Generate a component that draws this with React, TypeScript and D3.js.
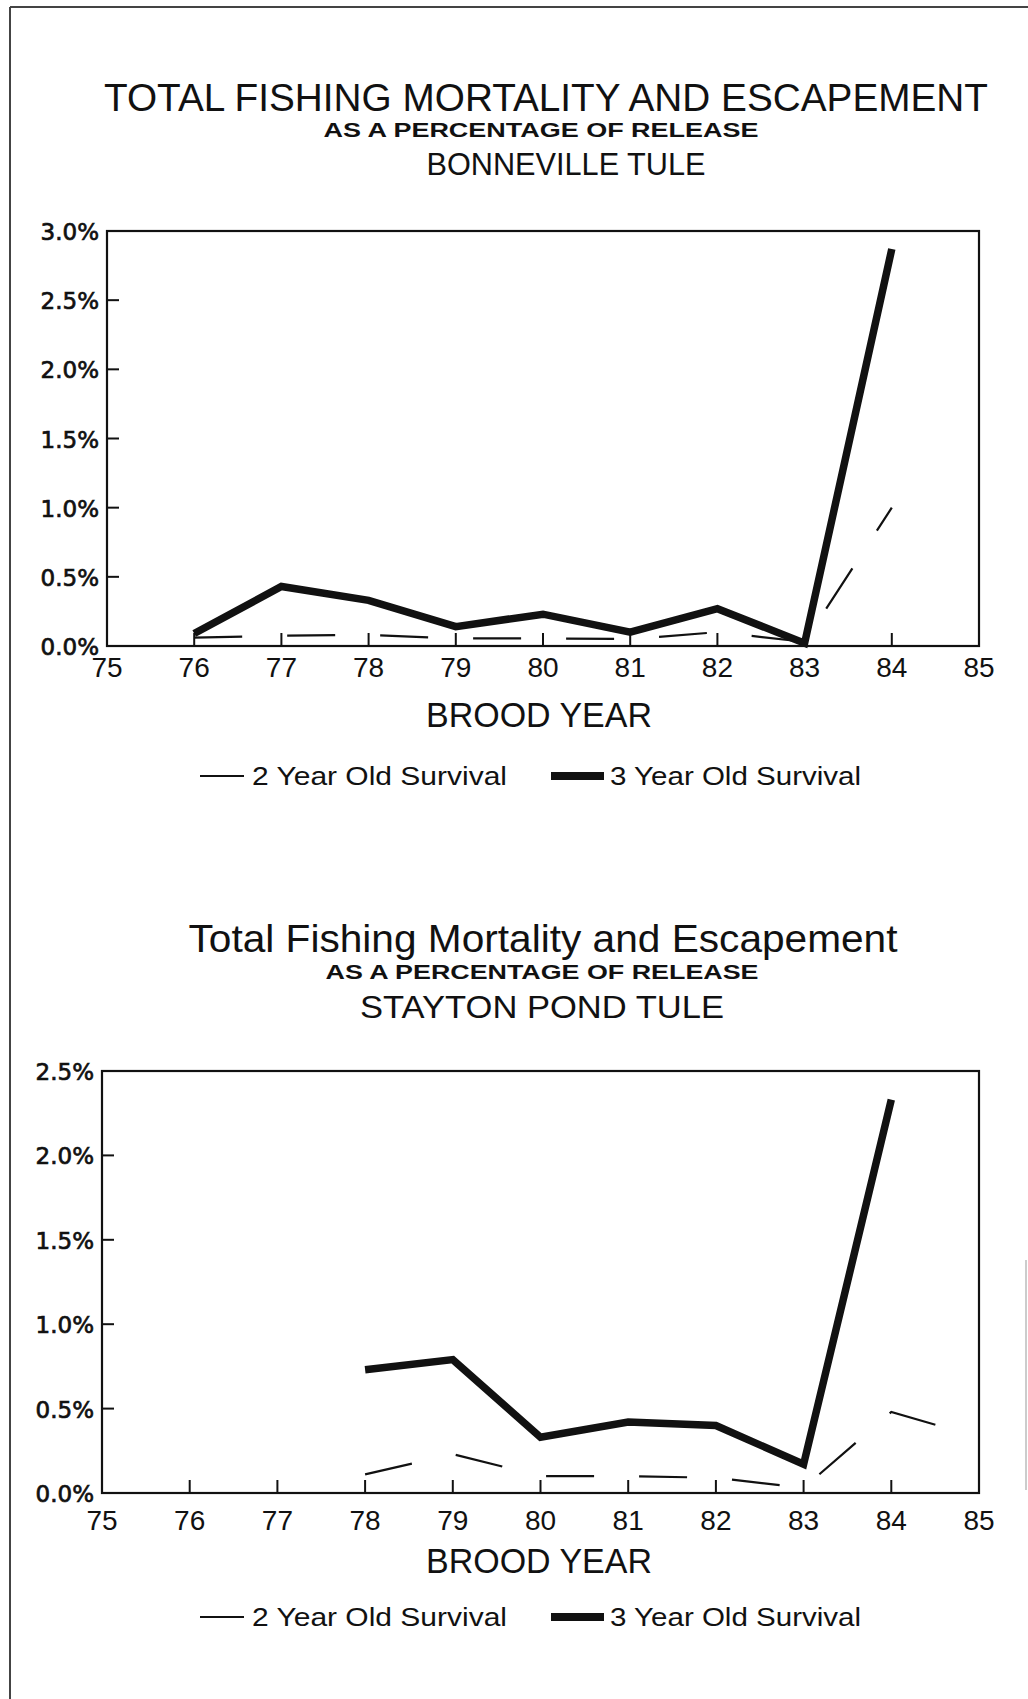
import React from "react";
import * as d3 from "d3";

const yearTicks = [75, 76, 77, 78, 79, 80, 81, 82, 83, 84, 85];

const bonnevilleYears = [76, 77, 78, 79, 80, 81, 82, 83, 84];
const bonneville3 = [0.09, 0.43, 0.33, 0.14, 0.23, 0.1, 0.27, 0.02, 2.87];
const bonneville2 = [0.06, 0.075, 0.08, 0.055, 0.055, 0.05, 0.1, 0.03, 1.0];
const bonnevilleYTicks = [0, 0.5, 1, 1.5, 2, 2.5, 3];

const staytonYears3 = [78, 79, 80, 81, 82, 83, 84];
const stayton3 = [0.73, 0.79, 0.33, 0.42, 0.4, 0.17, 2.33];
const staytonYears2 = [78, 79, 80, 81, 82, 83, 84, 85];
const stayton2 = [0.11, 0.23, 0.1, 0.1, 0.09, 0.03, 0.48, 0.33];
const staytonYTicks = [0, 0.5, 1, 1.5, 2, 2.5];

const legendLabels = ["2 Year Old Survival", "3 Year Old Survival"];

const FONT = "'Liberation Sans', Arial, sans-serif";
const YFONT = "'DejaVu Sans', sans-serif";

type Panel = {
  x0: number; x1: number; y0: number; y1: number; yMax: number;
  yTicks: number[];
  years3: number[]; s3: number[]; years2: number[]; s2: number[];
  titleLines: { text: string; y: number; size: number; len: number; weight?: string; cx: number }[];
  xLabelOffset: number;
  broodY: number; legendY: number;
};

function ChartPanel({ p }: { p: Panel }) {
  const x = d3.scaleLinear().domain([75, 85]).range([p.x0, p.x1]);
  const y = d3.scaleLinear().domain([0, p.yMax]).range([p.y0, p.y1]);
  const line = d3
    .line<[number, number]>()
    .x((d) => x(d[0]))
    .y((d) => y(d[1]));
  const d3path = line(p.years3.map((yr, i) => [yr, p.s3[i]] as [number, number])) || "";
  const d2path = line(p.years2.map((yr, i) => [yr, p.s2[i]] as [number, number])) || "";
  const innerX = yearTicks.filter((t) => t > 75 && t < 85);
  const innerY = p.yTicks.filter((t) => t > 0 && t < p.yMax);
  return (
    <g>
      {p.titleLines.map((t, i) => (
        <text
          key={i}
          x={t.cx}
          y={t.y}
          textAnchor="middle"
          fontFamily={FONT}
          fontSize={t.size}
          fontWeight={t.weight || "normal"}
          textLength={t.len}
          lengthAdjust="spacingAndGlyphs"
          fill="#111"
        >
          {t.text}
        </text>
      ))}
      <rect
        x={p.x0}
        y={p.y1}
        width={p.x1 - p.x0}
        height={p.y0 - p.y1}
        fill="none"
        stroke="#111"
        strokeWidth={2.2}
      />
      {innerX.map((t) => (
        <line key={"xt" + t} x1={x(t)} x2={x(t)} y1={p.y0} y2={p.y0 - 13} stroke="#111" strokeWidth={2} />
      ))}
      {innerY.map((t) => (
        <line key={"yt" + t} x1={p.x0} x2={p.x0 + 12} y1={y(t)} y2={y(t)} stroke="#111" strokeWidth={2} />
      ))}
      {p.yTicks.map((t) => (
        <text
          key={"yl" + t}
          x={p.x0 - 8}
          y={y(t) + 9}
          textAnchor="end"
          fontFamily={YFONT}
          fontSize={23}
          fill="#111"
          stroke="#111"
          strokeWidth={0.7}
        >
          {t.toFixed(1) + "%"}
        </text>
      ))}
      {yearTicks.map((t) => (
        <text
          key={"xl" + t}
          x={x(t)}
          y={p.y0 + p.xLabelOffset}
          textAnchor="middle"
          fontFamily={FONT}
          fontSize={28}
          fill="#111"
        >
          {t}
        </text>
      ))}
      <text
        x={539}
        y={p.broodY}
        textAnchor="middle"
        fontFamily={FONT}
        fontSize={35}
        textLength={226}
        lengthAdjust="spacingAndGlyphs"
        fill="#111"
      >
        BROOD YEAR
      </text>
      <path d={d2path} fill="none" stroke="#111" strokeWidth={2.2} strokeDasharray="48 45" />
      <path d={d3path} fill="none" stroke="#111" strokeWidth={7.5} strokeLinejoin="miter" />
      <line x1={200} x2={244} y1={p.legendY} y2={p.legendY} stroke="#111" strokeWidth={2} />
      <text
        x={252}
        y={p.legendY + 9}
        fontFamily={FONT}
        fontSize={25}
        textLength={255}
        lengthAdjust="spacingAndGlyphs"
        fill="#111"
      >
        {legendLabels[0]}
      </text>
      <line x1={551} x2={604} y1={p.legendY} y2={p.legendY} stroke="#111" strokeWidth={8} />
      <text
        x={610}
        y={p.legendY + 9}
        fontFamily={FONT}
        fontSize={25}
        textLength={251}
        lengthAdjust="spacingAndGlyphs"
        fill="#111"
      >
        {legendLabels[1]}
      </text>
    </g>
  );
}

export default function App() {
  const top: Panel = {
    x0: 107, x1: 979, y0: 646, y1: 231, yMax: 3,
    yTicks: bonnevilleYTicks,
    years3: bonnevilleYears, s3: bonneville3, years2: bonnevilleYears, s2: bonneville2,
    titleLines: [
      { text: "TOTAL FISHING MORTALITY AND ESCAPEMENT", y: 111, size: 39, len: 884, cx: 546 },
      { text: "AS A PERCENTAGE OF RELEASE", y: 137, size: 20, len: 435, weight: "bold", cx: 541 },
      { text: "BONNEVILLE TULE", y: 175, size: 32, len: 279, cx: 566 },
    ],
    xLabelOffset: 31,
    broodY: 727,
    legendY: 776,
  };
  const bottom: Panel = {
    x0: 102, x1: 979, y0: 1493, y1: 1071, yMax: 2.5,
    yTicks: staytonYTicks,
    years3: staytonYears3, s3: stayton3, years2: staytonYears2, s2: stayton2,
    titleLines: [
      { text: "Total Fishing Mortality and Escapement", y: 952, size: 38, len: 709, cx: 543 },
      { text: "AS A PERCENTAGE OF RELEASE", y: 979, size: 20, len: 433, weight: "bold", cx: 542 },
      { text: "STAYTON POND TULE", y: 1018, size: 31, len: 364, cx: 542 },
    ],
    xLabelOffset: 37,
    broodY: 1573,
    legendY: 1617,
  };
  return (
    <svg
      width={1028}
      height={1699}
      style={{ position: "absolute", left: 0, top: 0, background: "#fff" }}
    >
      <rect x={0} y={0} width={1028} height={1699} fill="#fff" />
      <line x1={10} x2={1028} y1={7} y2={7} stroke="#444" strokeWidth={2} />
      <line x1={10} x2={10} y1={7} y2={1699} stroke="#444" strokeWidth={2} />
      <line x1={1026} x2={1026} y1={1260} y2={1490} stroke="#ccc" strokeWidth={2} />
      <ChartPanel p={top} />
      <ChartPanel p={bottom} />
    </svg>
  );
}
